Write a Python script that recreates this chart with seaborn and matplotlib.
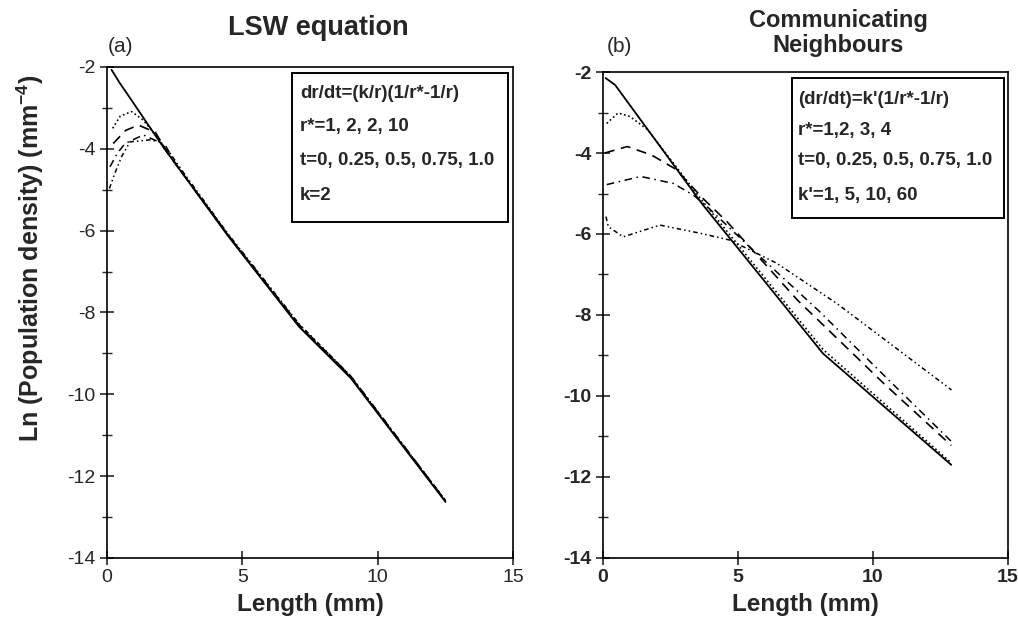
import matplotlib
matplotlib.use("Agg")
import matplotlib.pyplot as plt
from matplotlib.patches import Rectangle
from matplotlib.ticker import MultipleLocator
import seaborn as sns

# -------------------------------------------------------------------------
# Data
# -------------------------------------------------------------------------

# (a) LSW equation
a_x_t0 = [0.18, 0.49, 0.74, 2.1, 4.5, 7.1, 9.0, 12.5]
a_y_t0 = [-2.07, -2.4, -2.64, -3.97, -6.15, -8.35, -9.6, -12.63]
a_x_t025 = [0.22, 0.5, 0.92, 1.35, 1.8, 2.1, 4.5, 7.1, 9.0, 12.5]
a_y_t025 = [-3.5, -3.2, -3.09, -3.3, -3.66, -3.95, -6.12, -8.33, -9.58, -12.6]
a_x_t050 = [0.24, 0.7, 1.17, 1.8, 2.3, 4.5, 7.1, 9.0, 12.5]
a_y_t050 = [-3.87, -3.55, -3.42, -3.6, -4.15, -6.13, -8.32, -9.57, -12.6]
a_x_t075 = [0.12, 0.4, 0.68, 1.35, 2.15, 2.6, 4.5, 7.1, 9.0, 12.5]
a_y_t075 = [-4.44, -4.1, -3.87, -3.66, -3.9, -4.42, -6.12, -8.3, -9.55, -12.6]
a_x_t100 = [0.1, 0.3, 0.55, 0.86, 1.6, 1.97, 2.34, 2.8, 4.5, 7.1, 9.0, 12.5]
a_y_t100 = [-4.97, -4.6, -4.19, -3.83, -3.78, -3.83, -4.11, -4.55, -6.1, -8.28, -9.55, -12.6]

# (b) Communicating neighbours
b_x_t0 = [0.1, 0.45, 3.7, 8.15, 12.9]
b_y_t0 = [-2.15, -2.32, -5.28, -8.95, -11.7]
b_x_t025 = [0.14, 0.56, 1.0, 1.65, 3.7, 8.15, 12.9]
b_y_t025 = [-3.27, -3.01, -3.1, -3.42, -5.2, -8.85, -11.65]
b_x_t050 = [0.07, 0.9, 1.8, 2.7, 3.7, 4.6, 7.2, 10.4, 12.9]
b_y_t050 = [-4.0, -3.84, -4.05, -4.4, -5.12, -5.7, -7.63, -9.69, -11.22]
b_x_t075 = [0.14, 1.4, 2.6, 3.35, 3.9, 5.4, 8.0, 10.5, 12.9]
b_y_t075 = [-4.78, -4.58, -4.75, -5.04, -5.35, -6.3, -7.9, -9.55, -11.12]
b_x_t100 = [0.11, 0.2, 0.75, 2.11, 3.59, 4.7, 6.43, 8.65, 12.91]
b_y_t100 = [-5.57, -5.82, -6.07, -5.78, -5.98, -6.15, -6.72, -7.71, -9.85]

X_TICKS = [0, 5, 10, 15]
Y_TICKS = [-14, -12, -10, -8, -6, -4, -2]

BOX_A = ["dr/dt=(k/r)(1/r*-1/r)", "r*=1, 2, 2, 10",
         "t=0, 0.25, 0.5, 0.75, 1.0", "k=2"]
BOX_B = ["(dr/dt)=k'(1/r*-1/r)", "r*=1,2, 3, 4",
         "t=0, 0.25, 0.5, 0.75, 1.0", "k'=1, 5, 10, 60"]

STYLES = [
    ("-", 1.3),
    ((0, (1, 1.6)), 1.2),
    ((0, (6, 4)), 1.2),
    ((0, (5, 3, 1, 3)), 1.1),
    ((0, (3, 2, 1, 2, 1, 2)), 1.1),
]

sns.set_theme(style="ticks")
plt.rcParams["font.family"] = ["Liberation Sans", "DejaVu Sans"]
plt.rcParams["axes.unicode_minus"] = False
plt.rcParams["mathtext.fontset"] = "custom"
plt.rcParams["mathtext.rm"] = "Liberation Sans"
plt.rcParams["mathtext.bf"] = "Liberation Sans:bold"

fig = plt.figure(figsize=(10.18, 6.35), dpi=100)
ax_a = fig.add_axes([0.1048, 0.1213, 0.3994, 0.7732])
ax_b = fig.add_axes([0.5923, 0.1213, 0.3978, 0.7653])


def _draw(ax, series, bold_ticks):
    for (xs, ys), (ls, lw) in zip(series, STYLES):
        sns.lineplot(x=xs, y=ys, ax=ax, color="black", linestyle=ls,
                     linewidth=lw, sort=False, estimator=None)
    ax.set_xlim(0, 15)
    ax.set_ylim(-14, -2)
    ax.set_xticks(X_TICKS)
    ax.set_yticks(Y_TICKS)
    ax.yaxis.set_minor_locator(MultipleLocator(1))
    ax.tick_params(which="major", direction="inout", length=10, width=1.2,
                   labelsize=14, pad=3)
    ax.tick_params(which="minor", direction="inout", length=7, width=1.0)
    for s in ax.spines.values():
        s.set_visible(True)
        s.set_linewidth(1.2)
        s.set_color("black")
    for lab in ax.get_xticklabels() + ax.get_yticklabels():
        lab.set_fontweight("bold" if bold_ticks else "normal")
    ax.set_xlabel("Length (mm)", fontsize=17.5, fontweight="bold", labelpad=5)


_draw(ax_a, [(a_x_t0, a_y_t0), (a_x_t025, a_y_t025), (a_x_t050, a_y_t050),
             (a_x_t075, a_y_t075), (a_x_t100, a_y_t100)], False)
_draw(ax_b, [(b_x_t0, b_y_t0), (b_x_t025, b_y_t025), (b_x_t050, b_y_t050),
             (b_x_t075, b_y_t075), (b_x_t100, b_y_t100)], True)

ax_a.set_ylabel("Ln (Population density) (mm$^{\\mathbf{-4}}$)", fontsize=18,
                fontweight="bold")
ax_a.yaxis.set_label_coords(-0.15, 0.61)
ax_b.set_ylabel("")

# titles and panel letters
fig.text(318 / 1018, 1 - 28 / 635, "LSW equation", fontsize=19.5,
         fontweight="bold", ha="center", va="center")
fig.text(838 / 1018, 1 - 33 / 635, "Communicating\nNeighbours", fontsize=17,
         fontweight="bold", ha="center", va="center", linespacing=1.15)
fig.text(108 / 1018, 1 - 46 / 635, "(a)", fontsize=15, va="center")
fig.text(607 / 1018, 1 - 46 / 635, "(b)", fontsize=15, va="center")

# parameter boxes
for (x0, y0, x1, y1), lines, tx, ty in [
        ((292, 73, 508, 222), BOX_A, 300, [93, 126, 160, 195]),
        ((792, 78, 1004, 218), BOX_B, 798, [100, 130, 160, 196])]:
    fig.add_artist(Rectangle((x0 / 1018, 1 - y1 / 635), (x1 - x0) / 1018,
                             (y1 - y0) / 635, transform=fig.transFigure,
                             fill=False, edgecolor="black", linewidth=1.4))
    for txt, yy in zip(lines, ty):
        fig.text(tx / 1018, 1 - yy / 635, txt, fontsize=13.5,
                 fontweight="bold", va="center", ha="left")

fig.savefig("out.png", dpi=100)
